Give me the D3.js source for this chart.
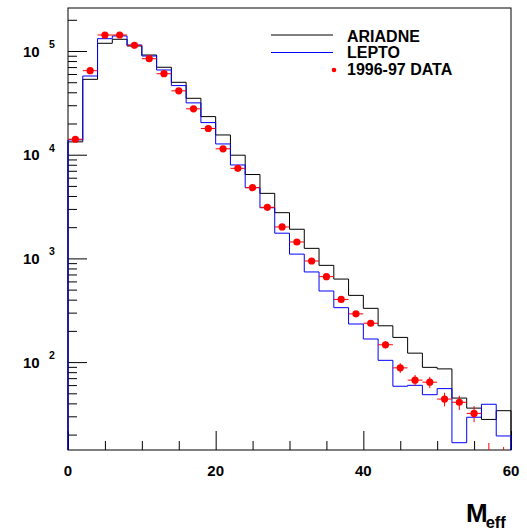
<!DOCTYPE html>
<html>
<head>
<meta charset="utf-8">
<script src="https://cdn.jsdelivr.net/npm/d3@7"></script>
<style>
  html, body { margin: 0; padding: 0; background: #fff; }
  svg { display: block; }
  text { font-family: "Liberation Sans", Arial, Helvetica, sans-serif; font-weight: bold; fill: #000; }
</style>
</head>
<body>
<svg id="chart" width="527" height="532"></svg>
<script>
// ---- data ----
const binEdgesStart = [0, 2, 4, 6, 8, 10, 12, 14, 16, 18, 20, 22, 24, 26, 28, 30, 32, 34, 36, 38, 40, 42, 44, 46, 48, 50, 52, 54, 56, 58];
const binWidth = 2;
const ariadne = [13300, 53300, 118700, 129700, 111700, 91500, 69700, 49900, 35000, 23300, 15500, 9890, 6440, 4240, 2760, 1910, 1250, 857, 632, 440, 330, 224, 173, 122, 89, 86, 45, 36, 28, 34];
const lepto = [13900, 57400, 131500, 139700, 114300, 89500, 65600, 46400, 31600, 20400, 12700, 7960, 4810, 3080, 1750, 1100, 740, 485, 335, 233, 167, 104, 58.5, 59.7, 48.5, 55.5, 16.7, 29.4, 39.2, 19.4];
const dataVals = [14100, 64600, 142700, 142700, 113500, 84300, 60400, 41300, 27700, 17900, 11400, 7390, 4810, 3110, 2010, 1440, 944, 667, 402, 292, 237, 147, 88, 67, 64, 44, 41, 32, 13, 11.8];
const dataErr = [119, 254, 378, 378, 337, 290, 246, 203, 166, 134, 107, 86, 69, 56, 45, 38, 31, 26, 20, 17, 15, 12, 9.4, 8.2, 8, 6.6, 6.4, 5.7, 3.6, 3.4];
const xTickLabels = [0, 20, 40, 60];
const xMinorTicks = [5, 10, 15, 25, 30, 35, 45, 50, 55];
const yMajorTicks = [100, 1000, 10000, 100000];
const yTickExponents = ["2", "3", "4", "5"];
const legendLabels = ["ARIADNE", "LEPTO", "1996-97 DATA"];
const xTitle = "M";
const xTitleSub = "eff";

// ---- layout ----
const svg = d3.select("#chart");
const L = 68, R = 511, T = 8, B = 450;
const x = d3.scaleLinear().domain([0, 60]).range([L, R]);
const yMin = Math.pow(10, 1.1524), yMax = Math.pow(10, 5.4147);
const y = d3.scaleLog().domain([yMin, yMax]).range([B, T]).clamp(true);

svg.append("defs").append("clipPath").attr("id", "frameclip")
  .append("rect").attr("x", L).attr("y", T).attr("width", R - L).attr("height", B - T);

// frame
svg.append("rect").attr("x", L).attr("y", T).attr("width", R - L).attr("height", B - T)
  .attr("fill", "none").attr("stroke", "#000").attr("stroke-width", 1);

// x axis ticks (inward)
const xAxisMajor = d3.axisBottom(x).tickValues(xTickLabels).tickSizeInner(-19).tickSizeOuter(0).tickFormat("");
const xAxisMinor = d3.axisBottom(x).tickValues(xMinorTicks).tickSizeInner(-9).tickSizeOuter(0).tickFormat("");
[xAxisMajor, xAxisMinor].forEach(ax => {
  const g = svg.append("g").attr("transform", `translate(0,${B})`).call(ax);
  g.select(".domain").remove();
  g.selectAll("line").attr("stroke", "#000").attr("stroke-width", 1);
});
svg.append("g").selectAll("text").data(xTickLabels).join("text")
  .attr("x", d => x(d)).attr("y", B + 25.5).attr("text-anchor", "middle")
  .attr("font-size", 15).text(d => d);

// y axis ticks (inward)
const yMinorTicks = y.ticks().filter(v => !yMajorTicks.includes(v) && v >= yMin && v <= yMax);
const yAxisMajor = d3.axisLeft(y).tickValues(yMajorTicks).tickSizeInner(-19).tickSizeOuter(0).tickFormat("");
const yAxisMinor = d3.axisLeft(y).tickValues(yMinorTicks).tickSizeInner(-9).tickSizeOuter(0).tickFormat("");
[yAxisMajor, yAxisMinor].forEach(ax => {
  const g = svg.append("g").attr("transform", `translate(${L},0)`).call(ax);
  g.select(".domain").remove();
  g.selectAll("line").attr("stroke", "#000").attr("stroke-width", 1);
});
const yl = svg.append("g").selectAll("text").data(yMajorTicks).join("text")
  .attr("x", 23).attr("y", d => y(d) + 5.5).attr("font-size", 15);
yl.append("tspan").text("10");
yl.append("tspan").attr("x", 49).attr("dy", -8.5).attr("font-size", 10.5).text((d, i) => yTickExponents[i]);

// histogram step paths
function stepPoints(vals) {
  const pts = [[0, yMin]];
  vals.forEach((v, i) => {
    pts.push([binEdgesStart[i], v]);
    pts.push([binEdgesStart[i] + binWidth, v]);
  });
  pts.push([binEdgesStart[vals.length - 1] + binWidth, yMin]);
  return pts;
}
const line = d3.line().x(d => x(d[0])).y(d => y(d[1]));
svg.append("path").attr("d", line(stepPoints(ariadne)))
  .attr("fill", "none").attr("stroke", "#000").attr("stroke-width", 1);
svg.append("path").attr("d", line(stepPoints(lepto)))
  .attr("fill", "none").attr("stroke", "#0000ff").attr("stroke-width", 1);

// data points with error bars
const dg = svg.append("g").attr("clip-path", "url(#frameclip)");
const yRaw = d3.scaleLog().domain([yMin, yMax]).range([B, T]);
dataVals.forEach((v, i) => {
  const cx = binEdgesStart[i] + binWidth / 2;
  dg.append("line")
    .attr("x1", x(binEdgesStart[i])).attr("x2", x(binEdgesStart[i] + binWidth))
    .attr("y1", yRaw(v)).attr("y2", yRaw(v))
    .attr("stroke", "#ff0000").attr("stroke-width", 1);
  dg.append("line")
    .attr("x1", x(cx)).attr("x2", x(cx))
    .attr("y1", yRaw(v - dataErr[i])).attr("y2", yRaw(v + dataErr[i]))
    .attr("stroke", "#ff0000").attr("stroke-width", 1);
  dg.append("circle").attr("cx", x(cx)).attr("cy", yRaw(v)).attr("r", 3.6).attr("fill", "#ff0000");
});

// legend
const lg = svg.append("g");
lg.append("line").attr("x1", 271).attr("x2", 333).attr("y1", 35).attr("y2", 35).attr("stroke", "#000").attr("stroke-width", 1);
lg.append("line").attr("x1", 271).attr("x2", 333).attr("y1", 52.5).attr("y2", 52.5).attr("stroke", "#0000ff").attr("stroke-width", 1);
lg.append("circle").attr("cx", 334).attr("cy", 70).attr("r", 2.3).attr("fill", "#ff0000");
const legY = [41.7, 58.3, 75];
lg.selectAll("text").data(legendLabels).join("text")
  .attr("x", 347).attr("y", (d, i) => legY[i]).attr("font-size", 16).text(d => d);

// x axis title (single text with subscript)
const xt = svg.append("text").attr("x", 466).attr("y", 522).attr("font-size", 26);
xt.append("tspan").text(xTitle);
xt.append("tspan").attr("dx", -2).attr("dy", 5.5).attr("font-size", 16.5).text(xTitleSub);
</script>
</body>
</html>
